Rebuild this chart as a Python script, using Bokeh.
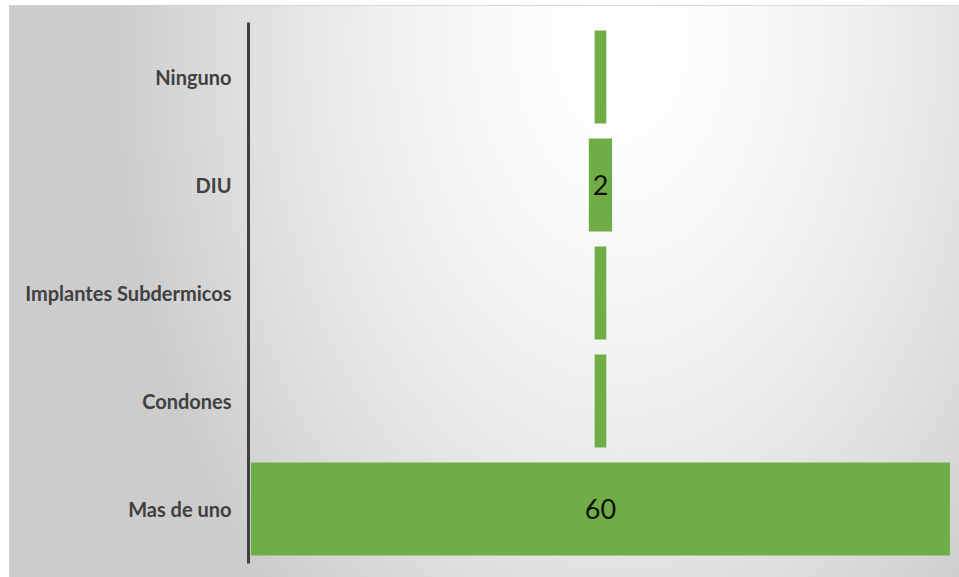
import numpy as np
from bokeh.plotting import figure
from bokeh.models import Range1d, FixedTicker
from bokeh.core.properties import value
from bokeh.embed import file_html
from bokeh.resources import INLINE

# ---- data ----
categories = ["Mas de uno", "Condones", "Implantes Subdermicos", "DIU", "Ninguno"]
counts = [60, 1, 1, 2, 1]
shown_labels = ["60", "", "", "2", ""]

W, H = 959, 577
BL, BT = 9, 5
FW, FH = W - BL, H - BT

xs, xe = -50.73, 30.82
ys, ye = -0.634, 4.662

p = figure(width=W, height=H, output_backend="svg", toolbar_location=None,
           x_range=Range1d(xs, xe), y_range=Range1d(ys, ye),
           min_border_left=BL, min_border_top=BT, min_border_right=0, min_border_bottom=0)
p.border_fill_color = "white"
p.outline_line_color = "#cfcfcf"
p.outline_line_width = 1
p.xaxis.visible = False
p.xgrid.visible = False
p.ygrid.visible = False

# background gradient (decoration)
nx, ny = FW // 2, FH // 2
px = BL + (np.arange(nx) + 0.5) * FW / nx
py = H - (np.arange(ny) + 0.5) * FH / ny  # row 0 at bottom
X, Y = np.meshgrid(px, py)
r = np.sqrt(((X - 620) / 480.0) ** 2 + ((Y - 40) / 720.0) ** 2)
c = 255 - 46 * r ** 1.6
c = np.clip(c, 204, 255).astype(np.uint32)
img = (255 << 24) | (c << 16) | (c << 8) | c
p.image_rgba(image=[img.astype(np.uint32)], x=xs, y=ys, dw=xe - xs, dh=ye - ys)

idx = list(range(len(categories)))
left = [-v / 2 for v in counts]
right = [v / 2 for v in counts]
p.hbar(y=idx, left=left, right=right, height=0.86, fill_color="#70AD47", line_color=None)

p.text(x=[0] * len(idx), y=idx, text=shown_labels, text_align="center", text_baseline="middle",
       text_font=value("Lato"), text_font_size="27px", text_color="#111111")

ax = p.yaxis[0]
ax.fixed_location = -30.21
ax.bounds = (-0.5, 4.5)
ax.ticker = FixedTicker(ticks=idx)
ax.major_label_overrides = {i: c for i, c in zip(idx, categories)}
ax.axis_line_color = "#404040"
ax.axis_line_width = 3
ax.major_tick_line_color = None
ax.minor_tick_line_color = None
ax.major_label_standoff = 11
ax.major_label_text_font = "Lato"
ax.major_label_text_font_style = "bold"
ax.major_label_text_font_size = "20px"
ax.major_label_text_color = "#404040"

open("out.html", "w").write(file_html(p, INLINE))
